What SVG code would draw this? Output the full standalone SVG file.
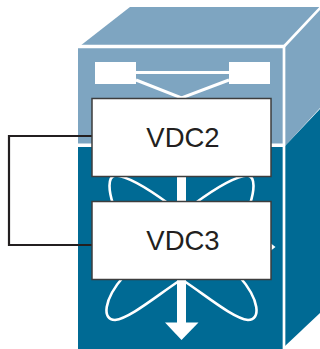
<svg xmlns="http://www.w3.org/2000/svg" width="320" height="349" viewBox="0 0 320 349">
  <style>
    .light { fill: #7ea5c1; }
    .dark { fill: #006a94; }
    .edge { stroke: #ffffff; fill: none; }
    .flow { stroke: #ffffff; stroke-width: 2.6; fill: none; stroke-linecap: round; }
    .box { fill: #ffffff; stroke: #3d3d3d; stroke-width: 1.5; }
    .label { font-family: "Liberation Sans", Arial, sans-serif; font-size: 27.5px; fill: #231f20; text-anchor: middle; }
    .link { stroke: #231f20; stroke-width: 2.2; fill: none; }
  </style>

  <!-- switch chassis drawn as a cube -->
  <g id="chassis">
    <polygon class="light" points="78,146 78,48 80,46 130,7 320,7 320,108 285,146"/>
    <rect class="dark" x="78" y="145" width="207" height="204"/>
    <polygon class="dark" points="285,146 320,109 320,313 285,346"/>
    <line class="edge" x1="76" y1="46.5" x2="285" y2="46.5" stroke-width="3.6"/>
    <line class="edge" x1="76" y1="145.3" x2="285" y2="145.3" stroke-width="3.4"/>
    <line class="edge" x1="284" y1="45" x2="284" y2="349" stroke-width="2.7"/>
    <line class="edge" x1="283.5" y1="47" x2="322" y2="6" stroke-width="2.7"/>

    <!-- supervisor blocks -->
    <rect x="95" y="62" width="41" height="22" fill="#ffffff"/>
    <rect x="229" y="62" width="41" height="22" fill="#ffffff"/>
    <line class="edge" x1="136" y1="72.5" x2="229" y2="72.5" stroke-width="3"/>
    <polyline class="edge" points="136,80 181.5,98 229,80" stroke-width="3"/>

    <!-- fabric flow symbol -->
    <rect x="177" y="170" width="9" height="155" fill="#ffffff"/>
    <polygon points="165,322.5 198.5,322.5 181.5,340" fill="#ffffff"/>
    <path class="flow" d="M113,204 C109,192 107,177 115,175.5 C128,176 150,190 169,204"/>
    <path class="flow" d="M250,204 C254,192 256,177 248,175.5 C235,176 213,190 194,204"/>
    <path class="flow" d="M179,281 C155,297 130,318 115,320 C102,320 103,300 124,276"/>
    <path class="flow" d="M184,281 C208,297 233,318 248,320 C261,320 260,300 239,276"/>
    <polygon points="271,243.5 275.5,247 271,250.5" fill="#ffffff"/>
  </g>

  <g id="connectors">
    <polyline class="link" points="92,136 9,136 9,245 92,245"/>
  </g>

  <g id="vdc2">
    <rect class="box" x="92" y="98.5" width="179" height="78"/>
    <text class="label" x="183" y="147.3">VDC2</text>
  </g>

  <g id="vdc3">
    <rect class="box" x="92" y="201.5" width="179" height="78"/>
    <text class="label" x="183" y="249.5">VDC3</text>
  </g>
</svg>
